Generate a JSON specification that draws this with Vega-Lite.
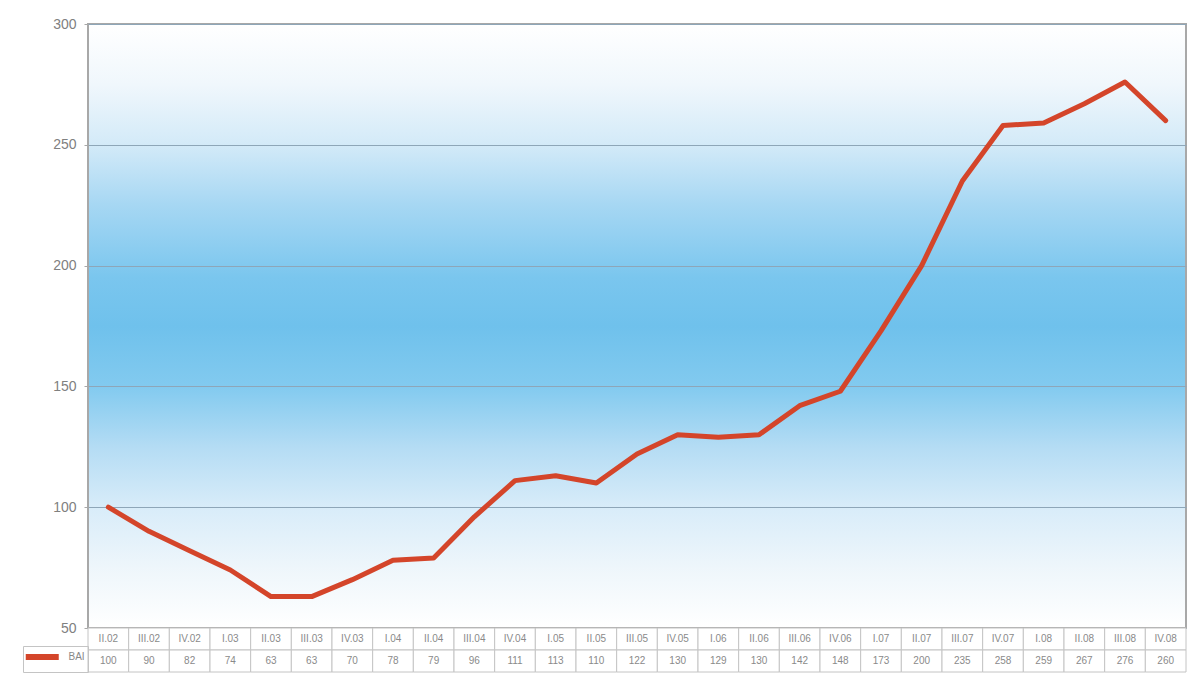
{
  "$schema": "https://vega.github.io/schema/vega-lite/v6.json",
  "padding": {"left": 22, "top": 16, "right": 10, "bottom": 5},
  "background": "#ffffff",
  "config": {
    "font": "Liberation Sans",
    "concat": {"spacing": 0}
  },
  "bounds": "flush",
  "data": {
    "values": [
      {"q": "II.02", "v": 100}, {"q": "III.02", "v": 90}, {"q": "IV.02", "v": 82},
      {"q": "I.03", "v": 74}, {"q": "II.03", "v": 63}, {"q": "III.03", "v": 63},
      {"q": "IV.03", "v": 70}, {"q": "I.04", "v": 78}, {"q": "II.04", "v": 79},
      {"q": "III.04", "v": 96}, {"q": "IV.04", "v": 111}, {"q": "I.05", "v": 113},
      {"q": "II.05", "v": 110}, {"q": "III.05", "v": 122}, {"q": "IV.05", "v": 130},
      {"q": "I.06", "v": 129}, {"q": "II.06", "v": 130}, {"q": "III.06", "v": 142},
      {"q": "IV.06", "v": 148}, {"q": "I.07", "v": 173}, {"q": "II.07", "v": 200},
      {"q": "III.07", "v": 235}, {"q": "IV.07", "v": 258}, {"q": "I.08", "v": 259},
      {"q": "II.08", "v": 267}, {"q": "III.08", "v": 276}, {"q": "IV.08", "v": 260}
    ]
  },
  "vconcat": [
    {
      "width": 1098,
      "height": 604,
      "view": {
        "stroke": "#a8a8a8",
        "strokeWidth": 2,
        "fill": {
          "gradient": "linear", "x1": 0, "y1": 0, "x2": 0, "y2": 1,
          "stops": [
            {"offset": 0, "color": "#ffffff"},
            {"offset": 0.1, "color": "#f0f7fc"},
            {"offset": 0.2, "color": "#d3eaf8"},
            {"offset": 0.3, "color": "#a6d7f3"},
            {"offset": 0.42, "color": "#7ac6ee"},
            {"offset": 0.5, "color": "#6fc1ec"},
            {"offset": 0.6, "color": "#82caef"},
            {"offset": 0.7, "color": "#b4dcf4"},
            {"offset": 0.8, "color": "#d8ecf9"},
            {"offset": 0.9, "color": "#eef6fb"},
            {"offset": 1, "color": "#ffffff"}
          ]
        }
      },
      "mark": {"type": "line", "strokeWidth": 5, "strokeJoin": "round", "strokeCap": "round"},
      "encoding": {
        "x": {
          "field": "q", "type": "ordinal", "sort": null,
          "scale": {"type": "point", "padding": 0.5},
          "axis": null
        },
        "y": {
          "field": "v", "type": "quantitative",
          "scale": {"domain": [50, 300], "nice": false, "zero": false},
          "axis": {
            "values": [50, 100, 150, 200, 250, 300],
            "title": null,
            "grid": true,
            "gridColor": "#8ea6b8",
            "gridWidth": 1.2,
            "domain": false,
            "tickColor": "#a8a8a8",
            "tickSize": 4,
            "labelColor": "#808080",
            "labelFontSize": 14,
            "labelPadding": 8,
            "minExtent": 65,
            "maxExtent": 65
          }
        },
        "color": {
          "datum": "BAI",
          "scale": {"range": ["#d4452a"]},
          "legend": {
            "orient": "none",
            "legendX": -65,
            "legendY": 622,
            "title": null,
            "strokeColor": "#c4c4c4",
            "padding": 2.5,
            "cornerRadius": 0,
            "symbolType": "M-1.5,0H4.5",
            "symbolSize": 121,
            "symbolStrokeWidth": 6,
            "labelOffset": 26,
            "labelFontSize": 10,
            "labelColor": "#888888"
          }
        }
      }
    },
    {
      "width": 1098,
      "height": 44,
      "view": {"stroke": null},
      "transform": [
        {"calculate": "'' + datum.v", "as": "vs"},
        {"fold": ["q", "vs"], "as": ["row", "txt"]}
      ],
      "encoding": {
        "x": {
          "field": "q", "type": "ordinal", "sort": null,
          "scale": {"type": "band", "paddingInner": 0, "paddingOuter": 0},
          "axis": null
        },
        "y": {
          "field": "row", "type": "ordinal",
          "scale": {"domain": ["q", "vs"], "paddingInner": 0, "paddingOuter": 0},
          "axis": null
        }
      },
      "layer": [
        {"mark": {"type": "rect", "fill": "#ffffff", "stroke": "#c4c4c4", "strokeWidth": 1}},
        {
          "mark": {"type": "text", "fontSize": 10, "color": "#8a8a8a"},
          "encoding": {"text": {"field": "txt"}}
        }
      ]
    }
  ]
}
